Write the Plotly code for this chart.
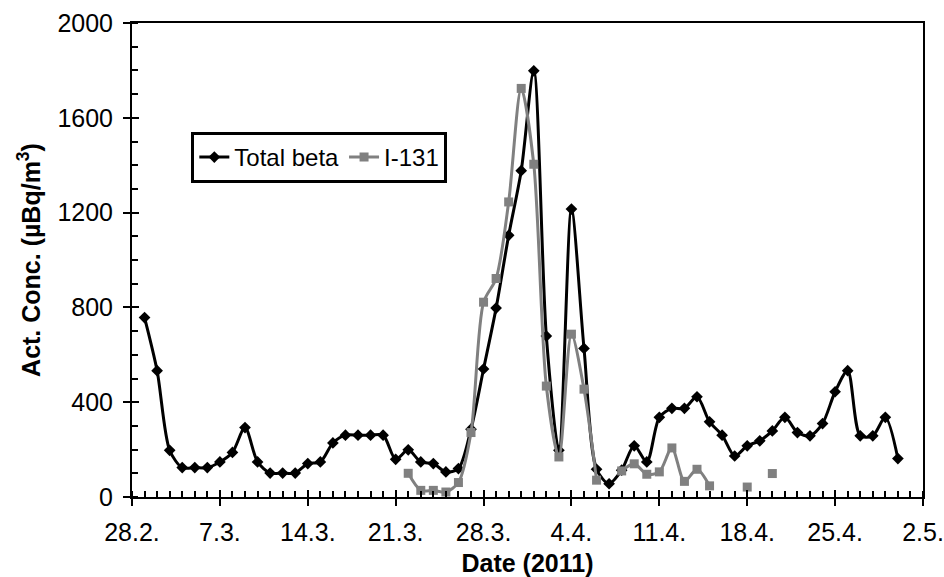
import pandas as pd
import plotly.graph_objects as go

# ---- data ----
beta_dates = pd.date_range("2011-03-01", "2011-04-30", freq="D")
beta_vals = [757, 533, 197, 124, 124, 124, 148, 188, 293, 148,
             101, 101, 101, 141, 148, 228, 261, 261, 261, 261,
             159, 199, 148, 141, 106, 120, 286, 540, 797, 1104,
             1377, 1798, 679, 197, 1215, 627, 117, 56, 113, 216,
             148, 336, 374, 374, 423, 317, 261, 173, 216, 237,
             279, 336, 272, 258, 310, 444, 533, 258, 258, 336, 162]

i131_dates = pd.date_range("2011-03-22", "2011-04-20", freq="D")
i131_vals = [100, 28, 28, 21, 61, 272, 822, 922, 1245, 1724,
             1404, 468, 169, 687, 455, 71, None, 110, 140, 96,
             106, 207, 66, 117, 47, None, None, 42, None, 99]

tick_dates = ["2011-02-28", "2011-03-07", "2011-03-14", "2011-03-21", "2011-03-28",
              "2011-04-04", "2011-04-11", "2011-04-18", "2011-04-25", "2011-05-02"]
tick_text = ["28.2.", "7.3.", "14.3.", "21.3.", "28.3.", "4.4.", "11.4.", "18.4.", "25.4.", "2.5."]
y_ticks = [0, 400, 800, 1200, 1600, 2000]

x_range = ["2011-02-28", "2011-05-02"]
y_range = [0, 2000]

FONT = "Liberation Sans, Arial, sans-serif"

fig = go.Figure()
fig.add_trace(go.Scatter(
    x=beta_dates, y=beta_vals, name="Total beta", mode="lines+markers",
    line=dict(color="black", width=3, shape="spline", smoothing=0.8),
    marker=dict(symbol="diamond", size=9, color="black"),
))
fig.add_trace(go.Scatter(
    x=i131_dates, y=i131_vals, name="I-131", mode="lines+markers",
    line=dict(color="#808080", width=3, shape="spline", smoothing=0.8),
    marker=dict(symbol="square", size=9, color="#808080"),
    connectgaps=False,
))
# dummy trace to draw the inner halves of the major ticks
fig.add_trace(go.Scatter(x=x_range, y=y_range, xaxis="x2", yaxis="y2",
                         mode="lines", line=dict(width=0), opacity=0,
                         showlegend=False, hoverinfo="skip"))

fig.update_layout(
    width=944, height=577,
    margin=dict(l=132, r=21, t=23, b=80, autoexpand=False),
    paper_bgcolor="white", plot_bgcolor="white",
    font=dict(family=FONT, size=25, color="black"),
    showlegend=True,
    legend=dict(
        orientation="h", x=0.075, y=0.77, xanchor="left", yanchor="top",
        bordercolor="black", borderwidth=3, bgcolor="white",
        font=dict(size=24, family=FONT), itemwidth=30,
        tracegroupgap=0,
    ),
    xaxis=dict(
        type="date", range=x_range, automargin=False,
        tickvals=tick_dates, ticktext=tick_text,
        ticks="outside", ticklen=7, tickwidth=2, tickcolor="black",
        showline=True, linecolor="black", linewidth=2, mirror=True,
        showgrid=False, zeroline=False,
        tickfont=dict(size=25, family=FONT), ticklabelstandoff=5,
        minor=dict(ticks="inside", ticklen=6, tickwidth=2, tickcolor="black",
                   dtick=86400000, tick0="2011-02-28", showgrid=False),
        title=dict(text="<b>Date (2011)</b>", font=dict(size=25, family=FONT), standoff=12),
    ),
    yaxis=dict(
        range=y_range, tickvals=y_ticks, automargin=False,
        ticks="outside", ticklen=7, tickwidth=2, tickcolor="black",
        showline=True, linecolor="black", linewidth=2, mirror=True,
        showgrid=False, zeroline=False,
        tickfont=dict(size=25, family=FONT), ticklabelstandoff=5,
        minor=dict(ticks="inside", ticklen=6, tickwidth=2, tickcolor="black",
                   dtick=100, showgrid=False),
        title=dict(text="<b>Act. Conc. (µBq/m<sup>3</sup>)</b>", font=dict(size=25, family=FONT), standoff=10),
    ),
    xaxis2=dict(
        type="date", range=x_range, overlaying="x", tickvals=tick_dates,
        ticks="inside", ticklen=7, tickwidth=2, tickcolor="black", automargin=False,
        showticklabels=False, showline=False, showgrid=False, zeroline=False,
    ),
    yaxis2=dict(
        range=y_range, overlaying="y", side="left", tickvals=y_ticks,
        ticks="inside", ticklen=7, tickwidth=2, tickcolor="black", automargin=False,
        showticklabels=False, showline=False, showgrid=False, zeroline=False,
    ),
)

fig.write_html("out.html")
